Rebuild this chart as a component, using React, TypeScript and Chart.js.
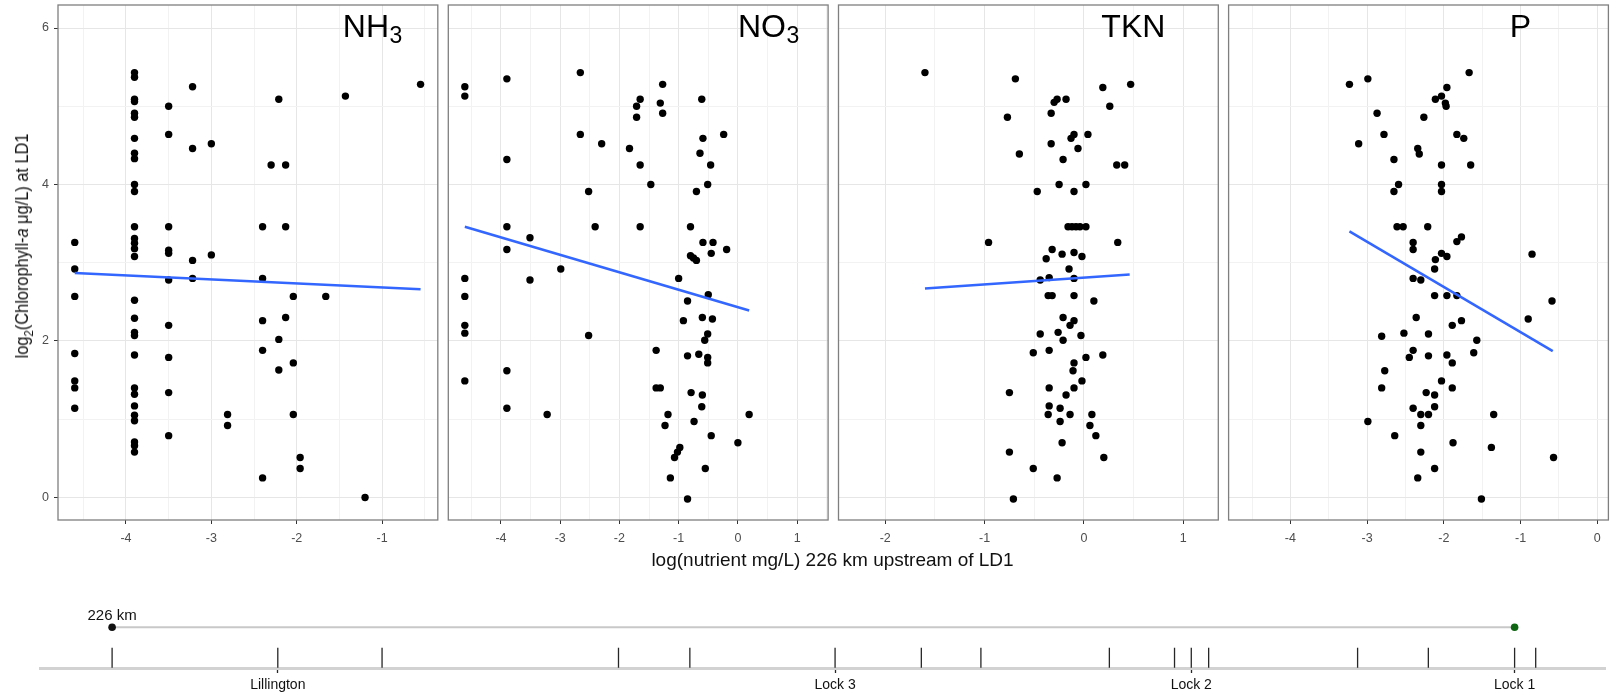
import React, { useEffect, useRef } from 'react';
import { Chart, registerables } from 'chart.js';

Chart.register(...registerables);

// ---------------- data ----------------
const NH3_X = [
  -4.60, -4.60, -4.60, -4.60, -4.60, -4.60, -4.60,
  -3.90, -3.90, -3.90, -3.90, -3.90, -3.90, -3.90, -3.90, -3.90, -3.90,
  -3.90, -3.90, -3.90, -3.90, -3.90, -3.90, -3.90, -3.90, -3.90, -3.90,
  -3.90, -3.90, -3.90, -3.90, -3.90, -3.90, -3.90, -3.90, -3.90,
  -3.50, -3.50, -3.50, -3.50, -3.50, -3.50, -3.50, -3.50, -3.50, -3.50,
  -3.22, -3.22, -3.22, -3.22,
  -3.00, -3.00,
  -2.81, -2.81,
  -2.40, -2.40, -2.40, -2.40, -2.40,
  -2.30,
  -2.21, -2.21, -2.21,
  -2.13, -2.13, -2.13,
  -2.04, -2.04, -2.04,
  -1.96, -1.96,
  -1.66, -1.43, -1.20, -0.55,
];
const NH3_Y = [
  3.26, 2.92, 2.57, 1.84, 1.49, 1.40, 1.14,
  5.43, 5.37, 5.09, 5.06, 4.91, 4.86, 4.59, 4.40, 4.33, 4.00,
  3.91, 3.46, 3.31, 3.25, 3.18, 3.08, 2.52, 2.29, 2.11, 2.07,
  1.82, 1.40, 1.32, 1.17, 1.05, 0.98, 0.71, 0.66, 0.58,
  5.00, 4.64, 3.46, 3.16, 3.12, 2.78, 2.20, 1.79, 1.34, 0.79,
  5.25, 4.46, 3.03, 2.80,
  4.52, 3.10,
  1.06, 0.92,
  3.46, 2.80, 2.26, 1.88, 0.25,
  4.25,
  5.09, 2.02, 1.63,
  4.25, 3.46, 2.30,
  2.57, 1.72, 1.06,
  0.51, 0.37,
  2.57, 5.13, 0.00, 5.28,
];
const NH3_FIT_X = [-4.60, -0.55];
const NH3_FIT_Y = [2.87, 2.66];

const NO3_X = [
  -4.61, -4.61, -3.90, -3.90, -3.90, -3.90, -3.51, -2.66, -2.66, -2.52,
  -2.41, -2.30, -1.83, -1.71, -1.71, -1.65, -1.65, -1.65, -1.47, -1.31,
  -1.27, -1.27, -0.80, -0.70, -0.64, -0.61, -0.59, -0.51, -0.46, -0.59,
  -0.42, -0.45, -0.24, -0.19,
  -4.61, -4.61, -4.61, -4.61, -4.61, -3.51, -2.99, -3.90, -3.90, -3.22,
  -2.52, -1.38, -1.38, -1.31, -1.18, -1.23, -1.00, -0.85, -0.92, -0.80,
  -0.75, -0.70, -0.50, -0.60, -0.43, -0.51, -0.56, -0.85, -0.66, -0.51,
  -0.51, -0.79, -0.60, -0.61, -0.74, -0.45, 0.00, 0.19, -0.98, -1.02,
  -1.07, -0.55, -1.14, -0.85,
];
const NO3_Y = [
  5.25, 5.13, 5.35, 4.32, 3.46, 3.17, 3.32, 5.43, 4.64, 3.91,
  3.46, 4.52, 4.46, 5.00, 4.86, 5.09, 4.25, 3.46, 4.00, 5.04,
  5.28, 4.91, 3.46, 3.91, 4.40, 5.09, 4.59, 4.00, 4.25, 3.26,
  3.26, 3.12, 4.64, 3.17,
  2.80, 2.57, 2.20, 2.10, 1.49, 2.78, 2.92, 1.62, 1.14, 1.06,
  2.07, 1.88, 1.40, 1.40, 1.06, 0.92, 2.80, 2.51, 2.26, 3.09,
  3.06, 3.03, 2.59, 2.30, 2.28, 2.09, 2.01, 1.81, 1.83, 1.79,
  1.72, 1.34, 1.31, 1.16, 0.97, 0.79, 0.70, 1.06, 0.64, 0.58,
  0.51, 0.37, 0.25, -0.02,
];
const NO3_FIT_X = [-4.61, 0.19];
const NO3_FIT_Y = [3.46, 2.39];

const TKN_X = [
  -1.60, -0.69, -0.77, -0.65, -0.96, 0.19, 0.47, 0.26, -0.30, -0.27,
  -0.18, -0.33, -0.10, -0.13, 0.04, -0.33, -0.06, -0.21, 0.33, 0.41,
  -0.25, 0.02, -0.47, -0.10, -0.16, -0.12, -0.08, -0.04, 0.02, 0.34,
  -0.32, -0.22, -0.10, -0.02, -0.38,
  -0.15, -0.44, -0.35, -0.10, -0.36, -0.32, -0.10, 0.10, -0.21, -0.10,
  -0.14, -0.44, -0.26, -0.21, -0.03, -0.51, -0.35, 0.02, 0.19, -0.10,
  -0.11, -0.02, -0.75, -0.35, -0.10, -0.18, -0.35, -0.24, -0.36, -0.14,
  0.08, -0.24, 0.06, 0.12, -0.22, -0.75, 0.20, -0.51, -0.27, -0.71,
];
const TKN_Y = [
  5.43, 5.35, 4.86, 4.39, 3.26, 5.24, 5.28, 5.00, 5.05, 5.09,
  5.09, 4.91, 4.64, 4.59, 4.64, 4.52, 4.46, 4.32, 4.25, 4.25,
  4.00, 4.00, 3.91, 3.91, 3.46, 3.46, 3.46, 3.46, 3.46, 3.26,
  3.17, 3.11, 3.13, 3.08, 3.05,
  2.92, 2.78, 2.81, 2.80, 2.58, 2.58, 2.58, 2.51, 2.30, 2.26,
  2.20, 2.09, 2.11, 2.01, 2.07, 1.85, 1.88, 1.79, 1.82, 1.72,
  1.62, 1.49, 1.34, 1.40, 1.40, 1.31, 1.17, 1.14, 1.06, 1.06,
  1.06, 0.97, 0.92, 0.79, 0.70, 0.58, 0.51, 0.37, 0.25, -0.02,
];
const TKN_FIT_X = [-1.60, 0.46];
const TKN_FIT_Y = [2.67, 2.85];

const P_X = [
  -3.23, -2.99, -1.67, -1.96, -2.11, -2.03, -1.98, -1.97, -2.87, -2.26,
  -2.78, -1.83, -1.74, -3.11, -2.34, -2.32, -2.65, -2.03, -1.65, -2.59,
  -2.65, -2.03, -2.03, -2.61, -2.53, -2.21, -2.40, -2.40, -1.83, -1.77,
  -0.85, -2.03, -1.96, -2.11,
  -2.12, -2.40, -2.30, -2.12, -1.96, -1.83, -0.59, -0.90, -2.36, -1.77,
  -1.89, -2.52, -2.20, -2.81, -1.57, -2.40, -2.45, -2.20, -1.96, -1.89,
  -1.61, -2.77, -2.03, -2.81, -1.89, -2.23, -2.12, -2.12, -2.40, -2.30,
  -2.20, -1.35, -2.99, -2.30, -2.64, -1.88, -1.38, -0.57, -2.30, -2.12,
  -2.34, -1.51,
];
const P_Y = [
  5.28, 5.35, 5.43, 5.24, 5.09, 5.13, 5.04, 5.00, 4.91, 4.86,
  4.64, 4.64, 4.59, 4.52, 4.46, 4.39, 4.32, 4.25, 4.25, 4.00,
  3.91, 4.00, 3.91, 3.46, 3.46, 3.46, 3.26, 3.17, 3.27, 3.33,
  3.11, 3.12, 3.08, 3.04,
  2.92, 2.80, 2.78, 2.58, 2.58, 2.58, 2.51, 2.28, 2.30, 2.26,
  2.20, 2.10, 2.09, 2.06, 2.01, 1.88, 1.79, 1.81, 1.82, 1.72,
  1.85, 1.62, 1.49, 1.40, 1.40, 1.34, 1.31, 1.16, 1.14, 1.06,
  1.06, 1.06, 0.97, 0.92, 0.79, 0.70, 0.64, 0.51, 0.58, 0.37,
  0.25, -0.02,
];
const P_FIT_X = [-3.23, -0.58];
const P_FIT_Y = [3.40, 1.87];

const NH3_TICKS = [-4, -3, -2, -1];
const NO3_TICKS = [-4, -3, -2, -1, 0, 1];
const TKN_TICKS = [-2, -1, 0, 1];
const P_TICKS = [-4, -3, -2, -1, 0];
const Y_MAJOR = [0, 2, 4, 6];
const Y_MINOR = [1, 3, 5];

const UPSTREAM_KM = 226;
const LD1_KM = 0;
const RIVER_SITE_KM = [226, 199.3, 182.5, 144.4, 132.9, 109.5, 95.6, 86.0, 65.3, 54.8, 52.1, 49.3, 25.3, 13.9, 0, -3.4];
const RIVER_LANDMARK_KM = [0, 52.1, 109.5, 199.3];
const RIVER_LANDMARK_NAMES = ['Lock 1', 'Lock 2', 'Lock 3', 'Lillington'];

// ---------------- layout / style ----------------
const W = 1617;
const H = 695;
const FONT = "'Liberation Sans', Arial, Helvetica, sans-serif";
const PANEL_TOP = 5;
const PANEL_BOTTOM = 520;
const PANEL_W = 379.8;
const Y_RANGE = [-0.288, 6.294];
const MAJOR_GRID = '#e6e6e6';
const MINOR_GRID = '#f2f2f2';
const LABEL_Y = 5.89;
const RIVER_LINE_Y = 2.4;
const RIVER_TICK_Y = 0.6;

type Panel = {
  xs: number[]; ys: number[]; fitX: number[]; fitY: number[];
  ticks: number[]; range: number[]; left: number;
  label: string; sub: string; labelX: number; showY: boolean;
};

const PANELS: Panel[] = [
  { xs: NH3_X, ys: NH3_Y, fitX: NH3_FIT_X, fitY: NH3_FIT_Y, ticks: NH3_TICKS, range: [-4.796, -0.348], left: 58, label: 'NH', sub: '3', labelX: -1.46, showY: true },
  { xs: NO3_X, ys: NO3_Y, fitX: NO3_FIT_X, fitY: NO3_FIT_Y, ticks: NO3_TICKS, range: [-4.889, 1.523], left: 448.3, label: 'NO', sub: '3', labelX: 0.0, showY: false },
  { xs: TKN_X, ys: TKN_Y, fitX: TKN_FIT_X, fitY: TKN_FIT_Y, ticks: TKN_TICKS, range: [-2.470, 1.352], left: 838.5, label: 'TKN', sub: '', labelX: 0.175, showY: false },
  { xs: P_X, ys: P_Y, fitX: P_FIT_X, fitY: P_FIT_Y, ticks: P_TICKS, range: [-4.805, 0.145], left: 1228.6, label: 'P', sub: '', labelX: -1.14, showY: false },
];

function minorTicks(major: number[], lo: number, hi: number) {
  const out: number[] = [];
  for (let k = Math.ceil(lo * 2); k <= Math.floor(hi * 2); k++) {
    const v = k / 2;
    if (!major.some((m) => Math.abs(m - v) < 1e-9)) out.push(v);
  }
  return out;
}

const zeroPad = (s: any) => {
  s.paddingLeft = 0; s.paddingRight = 0; s.paddingTop = 0; s.paddingBottom = 0;
};

function panelConfig(p: Panel): any {
  const [xmin, xmax] = p.range;
  const xAll = [...p.ticks, ...minorTicks(p.ticks, xmin, xmax)].sort((a, b) => a - b);
  const yAll = [...Y_MAJOR, ...Y_MINOR].sort((a, b) => a - b);
  const xMaj = (v: number) => p.ticks.some((t) => Math.abs(t - v) < 1e-9);
  const yMaj = (v: number) => Y_MAJOR.some((t) => Math.abs(t - v) < 1e-9);
  const AX = 40;
  const right = p.left + PANEL_W;
  const tickFont = { family: FONT, size: 12.5 };
  return {
    type: 'scatter',
    data: {
      datasets: [
        {
          data: p.xs.map((x, i) => ({ x, y: p.ys[i] })),
          pointRadius: 3.7, pointBackgroundColor: '#000', pointBorderColor: '#000', pointBorderWidth: 0,
          order: 1,
        },
        {
          data: p.fitX.map((x, i) => ({ x, y: p.fitY[i] })),
          showLine: true, borderColor: '#3366FF', borderWidth: 2.5, pointRadius: 0,
          order: 0,
        },
      ],
    },
    options: {
      animation: false, responsive: false, devicePixelRatio: 1, events: [],
      layout: { padding: { left: p.left - AX, right: W - right, top: PANEL_TOP, bottom: H - PANEL_BOTTOM - AX } },
      plugins: { legend: { display: false }, tooltip: { enabled: false }, title: { display: false } },
      scales: {
        x: {
          type: 'linear', position: 'bottom', min: xmin, max: xmax,
          afterBuildTicks: (s: any) => { s.ticks = xAll.map((v) => ({ value: v })); },
          afterFit: (s: any) => { s.height = AX; zeroPad(s); },
          ticks: {
            autoSkip: false, maxRotation: 0, minRotation: 0, padding: 7,
            color: '#4d4d4d', font: tickFont,
            callback: (v: number) => (xMaj(v) ? String(v) : ''),
          },
          grid: {
            color: (c: any) => (xMaj(c.tick.value) ? MAJOR_GRID : MINOR_GRID),
            lineWidth: 1, drawTicks: true, tickLength: 4, tickWidth: 1,
            tickColor: (c: any) => (xMaj(c.tick.value) ? '#333' : 'rgba(0,0,0,0)'),
          },
          border: { display: false },
        },
        y: {
          type: 'linear', position: 'left', min: Y_RANGE[0], max: Y_RANGE[1],
          afterBuildTicks: (s: any) => { s.ticks = yAll.map((v) => ({ value: v })); },
          afterFit: (s: any) => { s.width = AX; zeroPad(s); },
          ticks: {
            autoSkip: false, padding: 5, color: '#4d4d4d', font: tickFont,
            callback: (v: number) => (p.showY && yMaj(v) ? String(v) : ''),
          },
          grid: {
            color: (c: any) => (yMaj(c.tick.value) ? MAJOR_GRID : MINOR_GRID),
            lineWidth: 1, drawTicks: true, tickLength: 4, tickWidth: 1,
            tickColor: (c: any) => (p.showY && yMaj(c.tick.value) ? '#333' : 'rgba(0,0,0,0)'),
          },
          border: { display: false },
        },
      },
    },
    plugins: [
      {
        id: 'panelDecor',
        afterDraw(chart: any) {
          const { ctx, chartArea: a, scales } = chart;
          ctx.save();
          ctx.strokeStyle = '#7f7f7f';
          ctx.lineWidth = 1.3;
          ctx.strokeRect(a.left, a.top, a.right - a.left, a.bottom - a.top);
          const x = scales.x.getPixelForValue(p.labelX);
          const y = scales.y.getPixelForValue(LABEL_Y);
          ctx.fillStyle = '#000';
          ctx.textAlign = 'left';
          ctx.textBaseline = 'alphabetic';
          ctx.font = `32px ${FONT}`;
          ctx.fillText(p.label, x, y);
          if (p.sub) {
            const w = ctx.measureText(p.label).width;
            ctx.font = `23px ${FONT}`;
            ctx.fillText(p.sub, x + w + 0.5, y + 6);
          }
          ctx.restore();
        },
      },
    ],
  };
}

function riverConfig(): any {
  const left = 40.8;
  const right = 1607.7;
  const top = 600;
  const bottom = 668;
  const AX = 27;
  const sorted = [...RIVER_LANDMARK_KM].sort((a, b) => a - b);
  return {
    type: 'scatter',
    data: {
      datasets: [
        {
          data: [{ x: UPSTREAM_KM, y: RIVER_LINE_Y }, { x: LD1_KM, y: RIVER_LINE_Y }],
          showLine: true, borderColor: '#c8c8c8', borderWidth: 2, pointRadius: 0, order: 3,
        },
        {
          data: RIVER_SITE_KM.map((k) => ({ x: k, y: RIVER_TICK_Y })),
          pointStyle: 'line', pointRotation: 90, pointRadius: 10,
          pointBorderColor: '#262626', pointBorderWidth: 1.3, order: 2,
        },
        {
          data: [{ x: UPSTREAM_KM, y: RIVER_LINE_Y }],
          pointRadius: 3.8, pointBackgroundColor: '#111', pointBorderWidth: 0, order: 1,
        },
        {
          data: [{ x: LD1_KM, y: RIVER_LINE_Y }],
          pointRadius: 3.8, pointBackgroundColor: '#0e6512', pointBorderWidth: 0, order: 0,
        },
      ],
    },
    options: {
      animation: false, responsive: false, devicePixelRatio: 1, events: [],
      layout: { padding: { left, right: W - right, top, bottom: H - bottom - AX } },
      plugins: { legend: { display: false }, tooltip: { enabled: false } },
      scales: {
        x: {
          type: 'linear', reverse: true, min: -14.68, max: 237.49,
          afterBuildTicks: (s: any) => { s.ticks = sorted.map((v) => ({ value: v })); },
          afterFit: (s: any) => { s.height = AX; zeroPad(s); },
          ticks: {
            autoSkip: false, maxRotation: 0, minRotation: 0, padding: 4,
            color: '#111', font: { family: FONT, size: 14 },
            callback: (v: number) => RIVER_LANDMARK_NAMES[RIVER_LANDMARK_KM.indexOf(v)] ?? '',
          },
          grid: { drawOnChartArea: false, drawTicks: true, tickLength: 5, tickWidth: 1.3, tickColor: '#262626' },
          border: { display: true, color: '#d2d2d2', width: 3 },
        },
        y: { type: 'linear', display: false, min: 0, max: 4 },
      },
    },
    plugins: [
      {
        id: 'kmLabel',
        afterDatasetsDraw(chart: any) {
          const pt = chart.getDatasetMeta(2).data[0];
          if (!pt) return;
          const ctx = chart.ctx;
          ctx.save();
          ctx.fillStyle = '#111';
          ctx.font = `15px ${FONT}`;
          ctx.textAlign = 'center';
          ctx.textBaseline = 'middle';
          ctx.fillText(`${UPSTREAM_KM} km`, pt.x, pt.y - 11);
          ctx.restore();
        },
      },
    ],
  };
}

function ChartCanvas({ make }: { make: () => any }) {
  const ref = useRef<HTMLCanvasElement>(null);
  useEffect(() => {
    if (!ref.current) return;
    const chart = new Chart(ref.current, make());
    return () => chart.destroy();
  }, []);
  return (
    <canvas
      ref={ref}
      width={W}
      height={H}
      style={{ position: 'absolute', left: 0, top: 0, width: W, height: H }}
    />
  );
}

export default function App() {
  return (
    <div style={{ position: 'absolute', left: 0, top: 0, width: W, height: H, background: '#fff', overflow: 'hidden' }}>
      {PANELS.map((p, i) => (
        <ChartCanvas key={i} make={() => panelConfig(p)} />
      ))}
      <ChartCanvas make={riverConfig} />
      <div
        style={{
          position: 'absolute', left: 23, top: 245.5,
          transform: 'translate(-50%, -50%) rotate(-90deg) scaleX(0.86)',
          font: `19px ${FONT}`, whiteSpace: 'nowrap', color: '#111', lineHeight: '22px',
        }}
      >
        log<span style={{ fontSize: '0.72em', position: 'relative', top: '0.35em' }}>2</span>(Chlorophyll-<i>a</i> μg/L) at LD1
      </div>
      <div
        style={{
          position: 'absolute', left: 832.5, top: 560,
          transform: 'translate(-50%, -50%)',
          font: `19px ${FONT}`, whiteSpace: 'nowrap', color: '#111', lineHeight: '22px',
        }}
      >
        log(nutrient mg/L) 226 km upstream of LD1
      </div>
    </div>
  );
}
